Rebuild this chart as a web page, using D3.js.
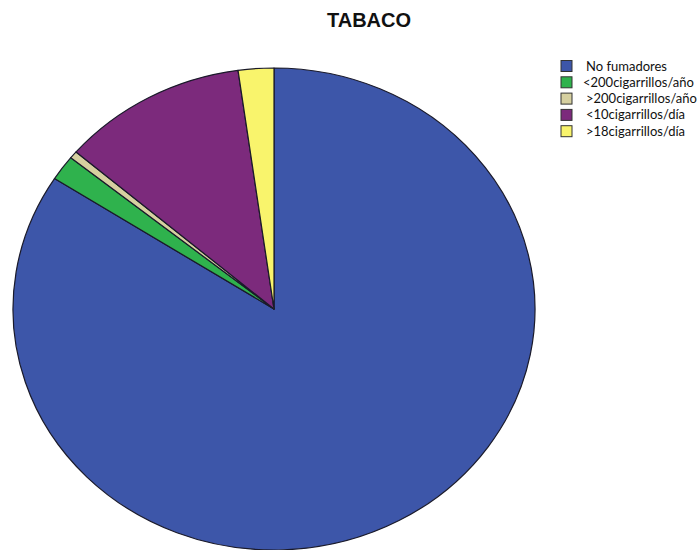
<!DOCTYPE html>
<html>
<head>
<meta charset="utf-8">
<script src="https://cdn.jsdelivr.net/npm/d3@7"></script>
<style>
  html, body { margin: 0; padding: 0; background: #fff; }
  svg { display: block; }
</style>
</head>
<body>
<svg id="chart" width="700" height="550"></svg>
<script>
// Smoking habit categories and their share of respondents (%)
const categories = ["No fumadores", "<200cigarrillos/año", ">200cigarrillos/año", "<10cigarrillos/día", ">18cigarrillos/día"];
const values = [84.1, 1.7, 0.5, 11.5, 2.2];
const colors = ["#3d56a9", "#2fb24d", "#d6d0a0", "#7c2a7c", "#f9f46c"];
const title = "TABACO";

const svg = d3.select("#chart");
const W = 700, H = 550;

// Pie geometry: drawn as a circle, stretched horizontally into an ellipse
const cx = 274, cy = 309, ry = 241, rx = 261;

const data = categories.map((c, i) => ({ cat: c, value: values[i], color: colors[i] }));

const pie = d3.pie().sort(null).value(d => d.value).startAngle(0).endAngle(2 * Math.PI);
const arc = d3.arc().innerRadius(0).outerRadius(ry);

const g = svg.append("g")
  .attr("transform", `translate(${cx},${cy}) scale(${rx / ry},1)`);

g.selectAll("path")
  .data(pie(data))
  .join("path")
  .attr("d", arc)
  .attr("fill", d => d.data.color)
  .attr("stroke", "#1a1a2a")
  .attr("stroke-width", 1.2)
  .attr("stroke-linejoin", "round")
  .attr("vector-effect", "non-scaling-stroke");

// Title
svg.append("text")
  .attr("x", 369)
  .attr("y", 27)
  .attr("text-anchor", "middle")
  .attr("font-family", "Liberation Sans, Arial, sans-serif")
  .attr("font-weight", "bold")
  .attr("font-size", 20)
  .attr("fill", "#111")
  .text(title);

// Legend
const legend = svg.append("g").attr("transform", "translate(560,60)");
const rowH = 16.3;
const rows = legend.selectAll("g")
  .data(data)
  .join("g")
  .attr("transform", (d, i) => `translate(0,${i * rowH})`);

rows.append("rect")
  .attr("x", 1)
  .attr("y", 0.5)
  .attr("width", 11)
  .attr("height", 11)
  .attr("fill", d => d.color)
  .attr("stroke", "#333")
  .attr("stroke-width", 1);

rows.append("text")
  .attr("x", (d, i) => i === 1 ? 23 : 26)
  .attr("y", 10.5)
  .attr("font-family", "Lato, 'Open Sans', sans-serif")
  .attr("font-size", 13)
  .attr("fill", "#111")
  .text(d => d.cat);
</script>
</body>
</html>
